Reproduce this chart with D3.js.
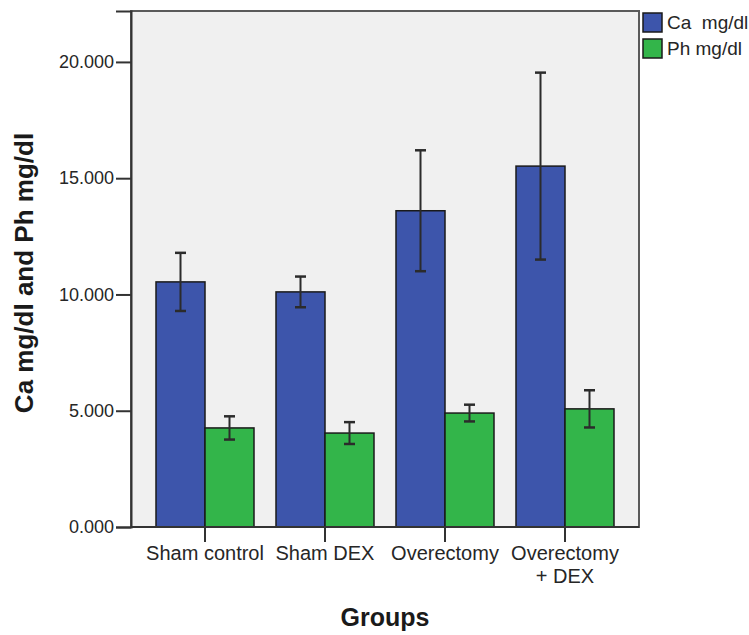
<!DOCTYPE html>
<html>
<head>
<meta charset="utf-8">
<script src="https://cdn.jsdelivr.net/npm/d3@7/dist/d3.min.js"></script>
<style>
  html, body { margin: 0; padding: 0; background: #ffffff; }
  svg { display: block; font-family: "Liberation Sans", Arial, sans-serif; }
</style>
</head>
<body>
<svg id="chart" width="749" height="635"></svg>
<script>
// Group names (second line, if any, separated by "\n")
const groups = ["Sham control", "Sham DEX", "Overectomy", "Overectomy\n+ DEX"];
const seriesNames = ["Ca  mg/dl", "Ph mg/dl"];
// Mean values per group
const caMeans = [10.54, 10.11, 13.60, 15.52];
const phMeans = [4.26, 4.04, 4.90, 5.08];
// Error bar half-widths (± around the mean)
const caErr = [1.25, 0.66, 2.60, 4.02];
const phErr = [0.50, 0.47, 0.36, 0.80];
const yTicks = [0, 5, 10, 15, 20];
const seriesColors = ["#3d55ab", "#33b54a"];

const svg = d3.select("#chart");
const frame = { left: 131, right: 639, top: 11, bottom: 527 };

const y = d3.scaleLinear().domain([0, 22.19]).range([frame.bottom, frame.top]);
const x0 = d3.scaleBand().domain(groups).range([145, 625])
  .paddingInner(22 / 120).paddingOuter(11 / 120);
const x1 = d3.scaleBand().domain(seriesNames).range([0, x0.bandwidth()]);

// Plot background
svg.append("rect")
  .attr("x", frame.left).attr("y", frame.top)
  .attr("width", frame.right - frame.left).attr("height", frame.bottom - frame.top)
  .attr("fill", "#f0f0f0").attr("stroke", "#5a5a5a").attr("stroke-width", 2);

const rows = groups.map((g, i) => ({
  group: g,
  values: [
    { name: seriesNames[0], mean: caMeans[i], err: caErr[i], color: seriesColors[0] },
    { name: seriesNames[1], mean: phMeans[i], err: phErr[i], color: seriesColors[1] }
  ]
}));

const gGroup = svg.append("g").selectAll("g").data(rows).join("g")
  .attr("transform", d => `translate(${x0(d.group)},0)`);

gGroup.selectAll("rect").data(d => d.values).join("rect")
  .attr("x", d => x1(d.name))
  .attr("y", d => y(d.mean))
  .attr("width", x1.bandwidth())
  .attr("height", d => y(0) - y(d.mean))
  .attr("fill", d => d.color)
  .attr("stroke", "#1a1a1a").attr("stroke-width", 1.5);

// Error bars
const capW = 11;
const eb = gGroup.selectAll("g.err").data(d => d.values).join("g").attr("class", "err")
  .attr("transform", d => `translate(${x1(d.name) + x1.bandwidth() / 2},0)`);
eb.append("line")
  .attr("x1", 0).attr("x2", 0)
  .attr("y1", d => y(d.mean + d.err)).attr("y2", d => y(d.mean - d.err))
  .attr("stroke", "#2b2b2b").attr("stroke-width", 2);
eb.selectAll("line.cap").data(d => [d.mean + d.err, d.mean - d.err]).join("line")
  .attr("class", "cap")
  .attr("x1", -capW / 2).attr("x2", capW / 2)
  .attr("y1", v => y(v)).attr("y2", v => y(v))
  .attr("stroke", "#2b2b2b").attr("stroke-width", 2.5);

// Y axis
const yAxis = d3.axisLeft(y).tickValues(yTicks).tickSize(15).tickPadding(2)
  .tickFormat(d3.format(".3f"));
const gy = svg.append("g").attr("transform", `translate(${frame.left},0)`).call(yAxis);
gy.select(".domain").attr("stroke", "#333").attr("stroke-width", 2);
gy.selectAll(".tick line").attr("stroke", "#333").attr("stroke-width", 2);
gy.selectAll(".tick text").attr("font-size", 18).attr("fill", "#262626")
  .attr("font-family", "'Liberation Sans', Arial, sans-serif");

// X axis
const xAxis = d3.axisBottom(x0).tickSize(15).tickFormat("");
const gx = svg.append("g").attr("transform", `translate(0,${frame.bottom})`).call(xAxis);
gx.select(".domain").attr("d", `M${frame.left},0H${frame.right}`)
  .attr("stroke", "#333").attr("stroke-width", 2);
gx.selectAll(".tick line").attr("stroke", "#333").attr("stroke-width", 2);
gx.selectAll(".tick").each(function (d) {
  const lines = d.split("\n");
  const t = d3.select(this).append("text")
    .attr("fill", "#262626").attr("font-size", 20).attr("text-anchor", "middle")
    .attr("font-family", "'Liberation Sans', Arial, sans-serif");
  lines.forEach((ln, k) => {
    t.append("tspan").attr("x", 0).attr("y", 33 + k * 23).text(ln);
  });
});

// Axis titles
svg.append("text")
  .attr("x", (frame.left + frame.right) / 2).attr("y", 626)
  .attr("text-anchor", "middle").attr("font-size", 25).attr("font-weight", "bold")
  .attr("fill", "#1a1a1a").text("Groups");
svg.append("text")
  .attr("transform", `translate(33,273) rotate(-90)`)
  .attr("text-anchor", "middle").attr("font-size", 26).attr("font-weight", "bold")
  .attr("fill", "#1a1a1a").text("Ca mg/dl and Ph mg/dl");

// Legend
const lg = svg.append("g").attr("transform", "translate(643,13)");
const li = lg.selectAll("g").data(seriesNames).join("g")
  .attr("transform", (d, i) => `translate(0,${i * 26})`);
li.append("rect").attr("width", 19).attr("height", 19)
  .attr("fill", (d, i) => seriesColors[i]).attr("stroke", "#1a1a1a").attr("stroke-width", 1.5);
li.append("text").attr("x", 24).attr("y", 16).attr("font-size", 19)
  .attr("fill", "#262626").attr("xml:space", "preserve")
  .style("white-space", "pre").text(d => d);
</script>
</body>
</html>
